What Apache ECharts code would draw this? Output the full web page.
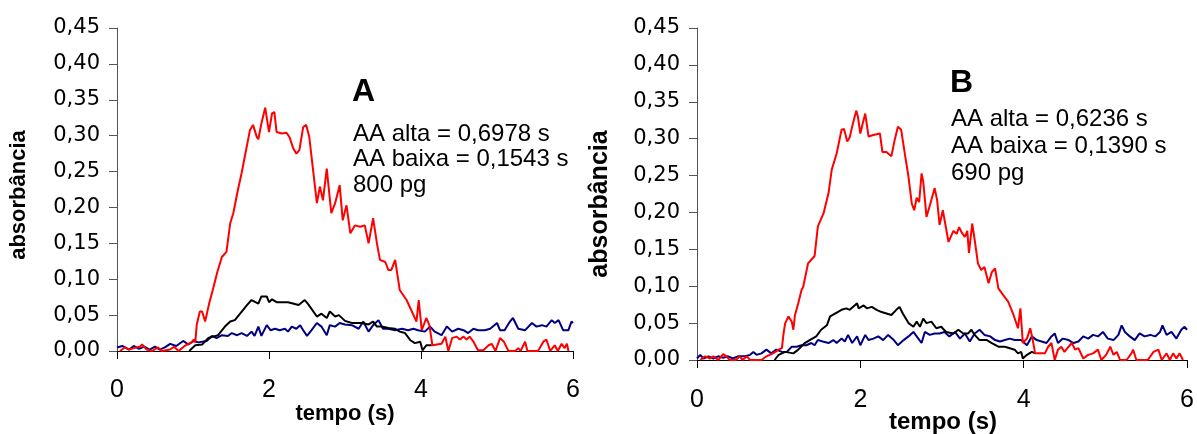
<!DOCTYPE html>
<html>
<head>
<meta charset="utf-8">
<script src="https://cdn.jsdelivr.net/npm/echarts@6/dist/echarts.min.js"></script>
<style>
  html, body { margin: 0; padding: 0; background: #fff; }
  #chart { width: 1197px; height: 434px; }
</style>
</head>
<body>
<div id="chart"></div>
<script>
// Absorbance transients, panel A (800 pg) – [tempo (s), absorbância]
const redA = [[0.04,0.0],[0.10,0.005],[0.16,0.002],[0.22,0.004],[0.30,0.006],[0.33,0.009],[0.39,0.002],[0.46,0.0],[0.54,0.005],[0.59,0.0],[0.70,0.002],[0.75,0.006],[0.81,0.0],[0.89,0.007],[0.98,0.012],[1.01,0.016],[1.03,0.012],[1.05,0.037],[1.09,0.055],[1.12,0.055],[1.16,0.041],[1.21,0.065],[1.26,0.085],[1.32,0.11],[1.38,0.131],[1.44,0.138],[1.49,0.178],[1.53,0.192],[1.59,0.224],[1.64,0.248],[1.68,0.27],[1.75,0.308],[1.79,0.315],[1.84,0.298],[1.86,0.295],[1.90,0.317],[1.95,0.339],[1.97,0.340],[2.00,0.305],[2.04,0.331],[2.07,0.333],[2.10,0.305],[2.17,0.303],[2.23,0.304],[2.27,0.298],[2.32,0.282],[2.36,0.275],[2.40,0.280],[2.45,0.312],[2.49,0.315],[2.53,0.298],[2.58,0.252],[2.63,0.206],[2.67,0.229],[2.71,0.21],[2.76,0.254],[2.78,0.233],[2.82,0.192],[2.87,0.206],[2.93,0.231],[2.97,0.182],[3.02,0.203],[3.07,0.164],[3.13,0.175],[3.20,0.173],[3.26,0.175],[3.31,0.15],[3.37,0.185],[3.42,0.15],[3.46,0.127],[3.53,0.124],[3.57,0.113],[3.61,0.113],[3.66,0.127],[3.70,0.099],[3.72,0.085],[3.81,0.071],[3.88,0.055],[3.94,0.041],[3.97,0.071],[4.01,0.029],[4.07,0.046],[4.11,0.036],[4.15,0.008],[4.27,0.01],[4.32,0.02],[4.36,0.0],[4.41,0.018],[4.47,0.02],[4.51,0.016],[4.56,0.02],[4.60,0.016],[4.64,0.02],[4.69,0.013],[4.75,0.001],[4.82,0.001],[4.89,0.008],[4.93,0.01],[4.98,0.0],[5.04,0.018],[5.09,0.013],[5.15,0.0],[5.24,0.0],[5.28,0.004],[5.31,0.0],[5.37,0.013],[5.40,0.0],[5.54,0.0],[5.61,0.013],[5.65,0.016],[5.70,0.0],[5.76,0.008],[5.80,0.0],[5.85,0.01],[5.89,0.004],[5.92,0.01],[5.94,0.0]];
const blackA = [[0.95,0.0],[1.03,0.008],[1.12,0.009],[1.2,0.018],[1.33,0.022],[1.42,0.034],[1.49,0.041],[1.55,0.043],[1.62,0.052],[1.71,0.064],[1.77,0.071],[1.86,0.066],[1.90,0.076],[1.97,0.076],[2.00,0.068],[2.04,0.072],[2.10,0.068],[2.25,0.068],[2.39,0.064],[2.47,0.071],[2.51,0.066],[2.63,0.048],[2.69,0.052],[2.76,0.046],[2.80,0.055],[2.87,0.048],[2.92,0.05],[3.00,0.042],[3.09,0.039],[3.22,0.039],[3.31,0.037],[3.37,0.041],[3.42,0.034],[3.48,0.034],[3.57,0.032],[3.66,0.031],[3.72,0.027],[3.79,0.025],[3.86,0.015],[3.92,0.011],[3.99,0.013],[4.02,0.001],[4.07,0.008],[4.14,0.008]];
const blueA = [[0,0.005],[0.07,0.007],[0.16,0.002],[0.22,0.007],[0.29,0.003],[0.36,0.006],[0.43,0.002],[0.50,0.006],[0.56,0.002],[0.63,0.005],[0.70,0.01],[0.78,0.007],[0.87,0.014],[0.94,0.009],[1.01,0.014],[1.07,0.012],[1.18,0.014],[1.25,0.021],[1.31,0.018],[1.38,0.022],[1.46,0.021],[1.51,0.025],[1.58,0.022],[1.64,0.025],[1.71,0.021],[1.77,0.027],[1.81,0.021],[1.86,0.034],[1.90,0.021],[1.97,0.036],[2.02,0.029],[2.08,0.031],[2.14,0.029],[2.21,0.031],[2.25,0.027],[2.30,0.034],[2.36,0.031],[2.41,0.036],[2.45,0.029],[2.50,0.021],[2.56,0.029],[2.63,0.039],[2.69,0.034],[2.76,0.022],[2.80,0.036],[2.87,0.034],[2.93,0.039],[3.00,0.037],[3.09,0.036],[3.18,0.031],[3.24,0.041],[3.31,0.027],[3.37,0.036],[3.44,0.043],[3.50,0.031],[3.57,0.031],[3.66,0.029],[3.75,0.031],[3.83,0.029],[3.90,0.031],[3.96,0.029],[4.05,0.027],[4.12,0.034],[4.18,0.027],[4.27,0.022],[4.34,0.034],[4.41,0.027],[4.49,0.031],[4.56,0.029],[4.62,0.025],[4.69,0.031],[4.75,0.029],[4.84,0.029],[4.91,0.031],[5.00,0.039],[5.04,0.029],[5.10,0.029],[5.17,0.041],[5.21,0.046],[5.28,0.031],[5.37,0.029],[5.46,0.039],[5.52,0.034],[5.59,0.036],[5.65,0.034],[5.72,0.043],[5.76,0.039],[5.81,0.043],[5.87,0.029],[5.94,0.029],[5.98,0.041],[6.0,0.039]];

// Panel B (690 pg)
const redB = [[0.04,0.0],[0.10,0.005],[0.16,0.002],[0.20,0.005],[0.26,0.0],[0.32,0.008],[0.36,0.005],[0.40,0.0],[0.48,0.0],[0.52,0.005],[0.56,0.0],[0.61,0.005],[0.65,0.0],[0.79,0.0],[0.85,0.005],[0.93,0.009],[1.00,0.014],[1.04,0.016],[1.06,0.036],[1.08,0.05],[1.12,0.059],[1.16,0.052],[1.18,0.041],[1.20,0.061],[1.24,0.077],[1.28,0.095],[1.30,0.099],[1.36,0.131],[1.44,0.141],[1.48,0.181],[1.55,0.199],[1.61,0.226],[1.65,0.258],[1.71,0.28],[1.77,0.312],[1.80,0.313],[1.84,0.296],[1.87,0.302],[1.91,0.321],[1.95,0.338],[1.97,0.33],[2.00,0.307],[2.03,0.321],[2.06,0.334],[2.10,0.303],[2.16,0.305],[2.24,0.307],[2.27,0.282],[2.32,0.282],[2.38,0.276],[2.42,0.298],[2.46,0.316],[2.50,0.312],[2.55,0.276],[2.59,0.248],[2.63,0.212],[2.66,0.203],[2.69,0.22],[2.72,0.214],[2.75,0.253],[2.77,0.242],[2.81,0.194],[2.85,0.209],[2.91,0.233],[2.94,0.217],[2.97,0.183],[3.01,0.203],[3.08,0.16],[3.14,0.175],[3.18,0.171],[3.21,0.18],[3.24,0.173],[3.28,0.167],[3.31,0.175],[3.33,0.145],[3.37,0.185],[3.40,0.163],[3.44,0.131],[3.48,0.122],[3.52,0.126],[3.57,0.104],[3.61,0.119],[3.65,0.124],[3.69,0.097],[3.75,0.088],[3.81,0.079],[3.87,0.063],[3.93,0.043],[3.96,0.07],[3.99,0.023],[4.04,0.029],[4.08,0.043],[4.11,0.028],[4.14,0.009],[4.26,0.009],[4.30,0.018],[4.34,0.023],[4.38,0.0],[4.42,0.014],[4.46,0.018],[4.50,0.011],[4.55,0.018],[4.59,0.023],[4.63,0.014],[4.67,0.016],[4.73,0.002],[4.79,0.007],[4.85,0.009],[4.91,0.014],[4.95,0.0],[5.01,0.007],[5.06,0.018],[5.10,0.007],[5.14,0.011],[5.18,0.0],[5.26,0.0],[5.32,0.009],[5.34,0.014],[5.38,0.0],[5.52,0.0],[5.59,0.011],[5.65,0.014],[5.69,0.0],[5.75,0.009],[5.79,0.0],[5.83,0.009],[5.87,0.002],[5.91,0.009],[5.95,0.0]];
const blackB = [[0.95,0.0],[1.00,0.007],[1.08,0.011],[1.18,0.009],[1.24,0.014],[1.32,0.023],[1.38,0.027],[1.46,0.032],[1.52,0.041],[1.59,0.047],[1.63,0.059],[1.69,0.063],[1.77,0.068],[1.83,0.07],[1.87,0.068],[1.93,0.074],[1.96,0.077],[1.98,0.07],[2.04,0.074],[2.08,0.07],[2.14,0.072],[2.20,0.068],[2.26,0.065],[2.32,0.063],[2.38,0.061],[2.44,0.068],[2.48,0.072],[2.52,0.063],[2.59,0.05],[2.65,0.045],[2.69,0.052],[2.73,0.045],[2.77,0.056],[2.81,0.05],[2.87,0.052],[2.93,0.043],[2.99,0.045],[3.05,0.038],[3.14,0.036],[3.20,0.041],[3.26,0.036],[3.32,0.036],[3.36,0.041],[3.40,0.034],[3.46,0.027],[3.55,0.027],[3.61,0.023],[3.69,0.018],[3.77,0.018],[3.83,0.016],[3.89,0.014],[3.93,0.009],[3.97,0.011],[3.99,0.002],[4.04,0.007],[4.10,0.011],[4.14,0.009]];
const blueB = [[0,0.002],[0.04,0.007],[0.08,0.002],[0.14,0.005],[0.20,0.002],[0.26,0.005],[0.32,0.003],[0.38,0.005],[0.44,0.002],[0.50,0.005],[0.59,0.005],[0.65,0.007],[0.69,0.011],[0.73,0.007],[0.79,0.009],[0.85,0.014],[0.91,0.009],[0.97,0.014],[1.04,0.011],[1.10,0.011],[1.16,0.018],[1.22,0.018],[1.28,0.02],[1.34,0.02],[1.40,0.023],[1.44,0.02],[1.48,0.027],[1.54,0.025],[1.61,0.023],[1.67,0.027],[1.71,0.023],[1.77,0.029],[1.81,0.025],[1.85,0.034],[1.90,0.023],[1.96,0.032],[2.00,0.02],[2.06,0.034],[2.10,0.027],[2.16,0.029],[2.22,0.032],[2.28,0.027],[2.34,0.034],[2.41,0.027],[2.46,0.02],[2.53,0.027],[2.59,0.032],[2.65,0.038],[2.69,0.032],[2.75,0.023],[2.79,0.038],[2.85,0.034],[2.91,0.036],[2.97,0.036],[3.03,0.038],[3.09,0.032],[3.16,0.038],[3.22,0.029],[3.28,0.036],[3.34,0.025],[3.40,0.036],[3.46,0.041],[3.52,0.034],[3.59,0.032],[3.65,0.027],[3.71,0.025],[3.77,0.027],[3.83,0.029],[3.89,0.027],[3.97,0.027],[4.04,0.02],[4.10,0.032],[4.16,0.027],[4.22,0.025],[4.28,0.023],[4.34,0.032],[4.38,0.036],[4.42,0.023],[4.48,0.029],[4.55,0.027],[4.61,0.023],[4.67,0.025],[4.73,0.032],[4.79,0.029],[4.85,0.034],[4.91,0.032],[4.97,0.038],[5.03,0.029],[5.10,0.027],[5.16,0.034],[5.20,0.047],[5.24,0.038],[5.30,0.032],[5.36,0.027],[5.42,0.036],[5.48,0.032],[5.55,0.034],[5.61,0.032],[5.67,0.038],[5.70,0.047],[5.75,0.034],[5.81,0.038],[5.87,0.029],[5.93,0.041],[5.97,0.045],[6.00,0.041]];

// Axis ranges
const xRange = { min: 0, max: 6, interval: 2 };
const yRange = { min: 0, max: 0.45, interval: 0.05 };

// Panel annotations
const panelLetters = ['A', 'B'];
const notesA = ['AA alta = 0,6978 s', 'AA baixa = 0,1543 s', '800 pg'];
const notesB = ['AA alta = 0,6236 s', 'AA baixa = 0,1390 s', '690 pg'];
const xTitle = 'tempo (s)';
const yTitle = 'absorbância';

const SANS = '"Liberation Sans", Arial, sans-serif';

function xAxisFor(gridIndex, margin) {
  return {
    type: 'value', gridIndex,
    min: xRange.min, max: xRange.max, interval: xRange.interval,
    axisLine: { show: true, lineStyle: { color: '#000', width: 1 } },
    axisTick: { show: true, inside: false, length: 8, lineStyle: { color: '#000' } },
    axisLabel: { margin, fontSize: 25, color: '#000', fontFamily: SANS },
    splitLine: { show: false }
  };
}
function yAxisFor(gridIndex) {
  return {
    type: 'value', gridIndex,
    min: yRange.min, max: yRange.max, interval: yRange.interval,
    axisLine: { show: true, lineStyle: { color: '#555', width: 1 } },
    axisTick: { show: true, inside: false, length: 8, lineStyle: { color: '#555' } },
    axisLabel: {
      margin: 17, fontSize: 21, color: '#000', fontFamily: '"DejaVu Sans", sans-serif',
      formatter: v => v.toFixed(2).replace('.', ',')
    },
    splitLine: { show: false }
  };
}
function line(data, color, idx) {
  return {
    type: 'line', data, xAxisIndex: idx, yAxisIndex: idx,
    showSymbol: false, symbol: 'none',
    lineStyle: { color, width: 2 }, itemStyle: { color },
    silent: true
  };
}
function txt(text, x, y, font, opts) {
  return Object.assign({
    type: 'text', x, y, silent: true,
    style: {
      text, font, fill: '#000',
      textAlign: 'left', textVerticalAlign: 'middle',
      align: 'left', verticalAlign: 'middle'
    }
  }, opts || {});
}
function ctr(el) {
  el.style.textAlign = 'center'; el.style.align = 'center';
  return el;
}

const graphics = [
  // axis titles
  ctr(txt(yTitle, 19, 195, 'bold 22px ' + SANS, { rotation: Math.PI / 2 })),
  ctr(txt(xTitle, 345, 414, 'bold 22px ' + SANS)),
  ctr(txt(yTitle, 600, 204, 'bold 25px ' + SANS, { rotation: Math.PI / 2 })),
  ctr(txt(xTitle, 943, 422, 'bold 24px ' + SANS)),
  // panel A notes
  txt(panelLetters[0], 352, 92, 'bold 32px ' + SANS),
  txt(notesA[0], 353, 134, '24px ' + SANS),
  txt(notesA[1], 353, 159.5, '24px ' + SANS),
  txt(notesA[2], 353, 185, '24px ' + SANS),
  // panel B notes
  txt(panelLetters[1], 950, 83, 'bold 32px ' + SANS),
  txt(notesB[0], 951, 119.5, '24px ' + SANS),
  txt(notesB[1], 951, 146, '24px ' + SANS),
  txt(notesB[2], 951, 173, '24px ' + SANS)
];

const chart = echarts.init(document.getElementById('chart'), null, { renderer: 'canvas' });
chart.setOption({
  animation: false,
  backgroundColor: '#fff',
  grid: [
    { left: 117, top: 28, width: 456, height: 323, containLabel: false },
    { left: 697, top: 28, width: 490, height: 332, containLabel: false }
  ],
  xAxis: [xAxisFor(0, 27), xAxisFor(1, 28)],
  yAxis: [yAxisFor(0), yAxisFor(1)],
  series: [
    line(blueA, '#000080', 0), line(blackA, '#000000', 0), line(redA, '#ff0000', 0),
    line(blueB, '#000080', 1), line(blackB, '#000000', 1), line(redB, '#ff0000', 1)
  ],
  graphic: graphics
});
</script>
</body>
</html>
